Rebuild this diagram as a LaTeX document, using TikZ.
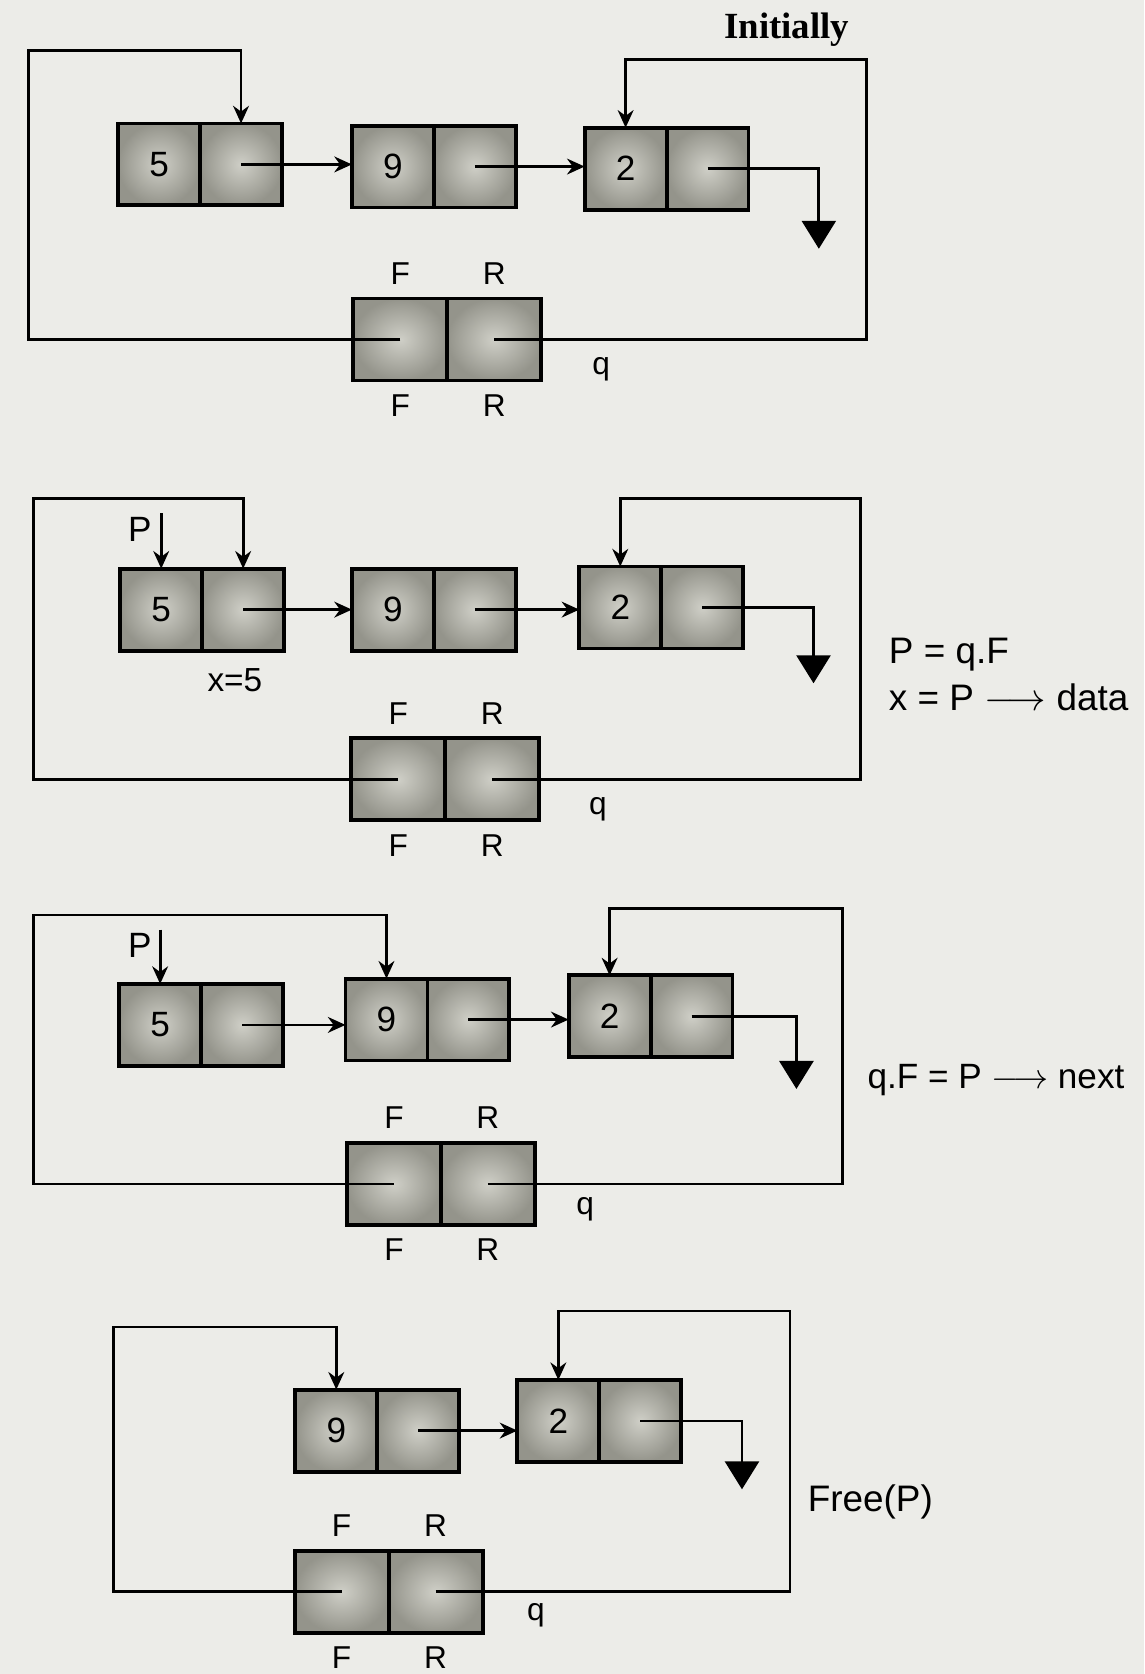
\documentclass[tikz,border=0pt]{standalone}
\usepackage{fontspec}
\setmainfont{Liberation Serif}
\setsansfont{Liberation Sans}
\usepackage{tikz}
\usetikzlibrary{positioning, arrows.meta}

\definecolor{paper}{HTML}{ECECE8}
\definecolor{cellout}{HTML}{94948B}
\definecolor{cellin}{HTML}{CFCFC7}

\begin{document}
\begin{tikzpicture}[
    x=0.01068cm, y=-0.01068cm, % one unit = one pixel of the scan
    node distance=0pt,
    datacell/.style={draw, line width=1.1pt, minimum width=0.82cm, minimum height=0.82cm,
        inner sep=0pt, outer sep=0pt, shading=radial, inner color=cellin, outer color=cellout,
        font=\sffamily\fontsize{10}{12}\selectfont},
    ptrcell/.style={datacell},
    qcell/.style={datacell, minimum width=0.94cm},
    lbl/.style={font=\sffamily\fontsize{9}{10}\selectfont, inner sep=1pt},
    note/.style={font=\sffamily\fontsize{10.5}{12}\selectfont, anchor=west, inner sep=0pt},
    arr/.style={-{Stealth[length=5pt, width=4.5pt]}, line width=0.8pt},
    nullarr/.style={-{Triangle[length=0.28cm, width=0.34cm]}, line width=0.8pt}
]
    \fill[paper] (0,0) rectangle (1072,1568);

    % 1. Initially
    \node[font=\bfseries\fontsize{10.5}{12}\selectfont] (init) at (737,28) {Initially};
    \node[datacell] (a5) at (149,154) {5};
    \node[ptrcell, right=of a5] (a5p) {};
    \node[datacell] (a9) at (368,156) {9};
    \node[ptrcell, right=of a9] (a9p) {};
    \node[datacell] (a2) at (586,158) {2};
    \node[ptrcell, right=of a2] (a2p) {};
    \node[qcell] (aF) at (375,318) {};
    \node[qcell, right=of aF] (aR) {};
    \node[lbl, above=0.1cm of aF] (aFt) {F};
    \node[lbl, above=0.1cm of aR] (aRt) {R};
    \node[lbl, below=0.1cm of aF] (aFb) {F};
    \node[lbl, below=0.1cm of aR] (aRb) {R};
    \node[lbl] (aq) at (563,346) {q};
    \coordinate (aL) at (27,47);
    \coordinate (aU) at (812,56);
    \coordinate (aZ) at (767,233);

    \draw[arr] (a5p.center) -- (a5p.center -| a9.west);
    \draw[arr] (a9p.center) -- (a9p.center -| a2.west);
    \draw[nullarr] (a2p.center) -| (aZ);
    \draw[arr] (aF.center) -| (aL) -| (a5p.north);
    \draw[arr] (aR.center) -| (aU) -| (a2.north);

    % 2. P = q.F, x = P -> data
    \node[datacell] (b5) at (151,571) {5};
    \node[ptrcell, right=of b5] (b5p) {};
    \node[datacell] (b9) at (368,571) {9};
    \node[ptrcell, right=of b9] (b9p) {};
    \node[datacell] (b2) at (581,569) {2};
    \node[ptrcell, right=of b2] (b2p) {};
    \node[qcell] (bF) at (373,730) {};
    \node[qcell, right=of bF] (bR) {};
    \node[lbl, above=0.1cm of bF] (bFt) {F};
    \node[lbl, above=0.1cm of bR] (bRt) {R};
    \node[lbl, below=0.1cm of bF] (bFb) {F};
    \node[lbl, below=0.1cm of bR] (bRb) {R};
    \node[lbl] (bq) at (560,758) {q};
    \node[lbl, font=\sffamily\fontsize{10}{12}\selectfont] (bP) at (131,496) {P};
    \node[lbl, font=\sffamily\fontsize{9.5}{11}\selectfont] (bx) at (220,637) {x=5};
    \node[note] (bn1) at (832,613) {P = q.F};
    \node[note] (bn2) at (832,653) {x = P $\longrightarrow$ data};
    \coordinate (bL) at (31,467);
    \coordinate (bU) at (806,467);
    \coordinate (bZ) at (762,640);

    \draw[arr] (b5p.center) -- (b5p.center -| b9.west);
    \draw[arr] (b9p.center) -- (b9p.center -| b2.west);
    \draw[nullarr] (b2p.center) -| (bZ);
    \draw[arr] (b5.north |- bP.north) -- (b5.north);
    \draw[arr] (bF.center) -| (bL) -| (b5p.north);
    \draw[arr] (bR.center) -| (bU) -| (b2.north);

    % 3. q.F = P -> next
    \node[datacell] (c5) at (150,960) {5};
    \node[ptrcell, right=of c5] (c5p) {};
    \node[datacell] (c9) at (362,955) {9};
    \node[ptrcell, right=of c9] (c9p) {};
    \node[datacell] (c2) at (571,952) {2};
    \node[ptrcell, right=of c2] (c2p) {};
    \node[qcell] (cF) at (369,1109) {};
    \node[qcell, right=of cF] (cR) {};
    \node[lbl, above=0.1cm of cF] (cFt) {F};
    \node[lbl, above=0.1cm of cR] (cRt) {R};
    \node[lbl, below=0.1cm of cF] (cFb) {F};
    \node[lbl, below=0.1cm of cR] (cRb) {R};
    \node[lbl] (cq) at (548,1133) {q};
    \node[lbl, font=\sffamily\fontsize{10}{12}\selectfont] (cP) at (131,886) {P};
    \node[note, font=\sffamily\fontsize{10}{12}\selectfont] (cn) at (812,1012) {q.F = P $\longrightarrow$ next};
    \coordinate (cL) at (31,857);
    \coordinate (cU) at (789,851);
    \coordinate (cZ) at (746,1020);

    \draw[arr] (c5p.center) -- (c5p.center -| c9.west);
    \draw[arr] (c9p.center) -- (c9p.center -| c2.west);
    \draw[nullarr] (c2p.center) -| (cZ);
    \draw[arr] (c5.north |- cP.north) -- (c5.north);
    \draw[arr] (cF.center) -| (cL) -| (c9.north);
    \draw[arr] (cR.center) -| (cU) -| (c2.north);

    % 4. Free(P)
    \node[datacell] (d9) at (315,1340) {9};
    \node[ptrcell, right=of d9] (d9p) {};
    \node[datacell] (d2) at (523,1331) {2};
    \node[ptrcell, right=of d2] (d2p) {};
    \node[qcell] (dF) at (320,1491) {};
    \node[qcell, right=of dF] (dR) {};
    \node[lbl, above=0.1cm of dF] (dFt) {F};
    \node[lbl, above=0.1cm of dR] (dRt) {R};
    \node[lbl, below=0.1cm of dF] (dFb) {F};
    \node[lbl, below=0.1cm of dR] (dRb) {R};
    \node[lbl] (dq) at (502,1513) {q};
    \node[note] (dn) at (756,1407) {Free(P)};
    \coordinate (dL) at (106,1243);
    \coordinate (dU) at (740,1228);
    \coordinate (dZ) at (695,1395);

    \draw[arr] (d9p.center) -- (d9p.center -| d2.west);
    \draw[nullarr] (d2p.center) -| (dZ);
    \draw[arr] (dF.center) -| (dL) -| (d9.north);
    \draw[arr] (dR.center) -| (dU) -| (d2.north);

\end{tikzpicture}
\end{document}
